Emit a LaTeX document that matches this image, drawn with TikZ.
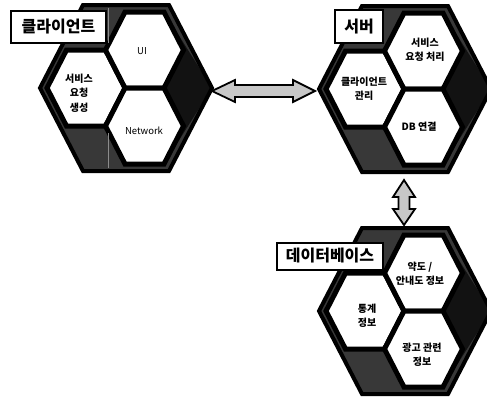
\documentclass[tikz,border=0pt]{standalone}
\usepackage{fontspec}
\setmainfont{Noto Sans CJK KR}
\begin{document}
\tikzset{
  darkfill/.style={fill=black!78},
  darkerfill/.style={fill=black!93},
  outerline/.style={draw=black, line width=4pt, line join=miter},
  cellstyle/.style={fill=white, draw=black, line width=5pt, line join=miter},
  labelbox/.style={draw=black, line width=2pt, fill=white, inner sep=0pt,
    font=\fontsize{16}{18}\selectfont\bfseries},
  celltext/.style={font=\fontsize{10}{14.5}\selectfont\bfseries, align=center, inner sep=0pt},
  latintext/.style={font=\fontsize{9.5}{12}\selectfont, inner sep=0pt},
  fatarrow/.style={fill=black!22, draw=black, line width=1.8pt, line join=miter},
  crease/.style={draw=black!45, line width=1pt},
  ihex/.pic={\path[cellstyle] (-39,0) -- (-19.5,-38) -- (19.5,-38) -- (39,0) -- (19.5,38) -- (-19.5,38) -- cycle;},
  hexblock/.pic={
    \path[darkfill] (-86,0) -- (-43,-83) -- (43,-83) -- (86,0) -- (43,83) -- (-43,83) -- cycle;
    \path[darkerfill] (38,-76) -- (86,0) -- (38,76) -- cycle;
    \pic at (-40,0) {ihex};
    \pic at (18.5,-38) {ihex};
    \pic at (18.5,38) {ihex};
    \path[outerline] (-86,0) -- (-43,-83) -- (43,-83) -- (86,0) -- (43,83) -- (-43,83) -- cycle;
  }
}
\begin{tikzpicture}[x=1pt, y=-1pt]
  \useasboundingbox[fill=white] (0,0) rectangle (487,402);

  % hexagon blocks
  \pic at (126,88) {hexblock};
  \draw[crease] (108,8) -- (108,43);
  \draw[crease] (108,133) -- (108,168);
  \pic at (405,89) {hexblock};
  \pic at (405,311) {hexblock};

  % labels
  \node[labelbox, minimum width=95pt, minimum height=32pt] (lc) at (58.5,27) {클라이언트};
  \node[labelbox, minimum width=48pt, minimum height=33pt] (ls) at (359,26.5) {서버};
  \node[labelbox, minimum width=106pt, minimum height=27pt] (ld) at (330,256) {데이터베이스};

  % client cells
  \node[celltext] (c1) at (79,93) {서비스\\요청\\생성};
  \node[latintext] (c2) at (142,51) {UI};
  \node[latintext] (c3) at (144,131) {Network};

  % server cells
  \node[celltext] (s1) at (425,50) {서비스\\요청 처리};
  \node[celltext] (s2) at (364,89) {클라이언트\\관리};
  \node[celltext] (s3) at (419,127) {DB 연결};

  % database cells
  \node[celltext] (d1) at (420,274) {약도 /\\안내도 정보};
  \node[celltext] (d2) at (367,316) {통계\\정보};
  \node[celltext] (d3) at (422,355) {광고 관련\\정보};

  % fat double arrows
  \coordinate (ha) at (212,91);
  \draw[fatarrow] (ha) -- ++(23,-11) -- ++(0,5) -- ++(58,0) -- ++(0,-5) -- ++(22,11)
     -- ++(-22,11) -- ++(0,-5) -- ++(-58,0) -- ++(0,5) -- cycle;
  \coordinate (va) at (404,180);
  \draw[fatarrow] (va) -- ++(11,17) -- ++(-5.5,0) -- ++(0,12) -- ++(5.5,0) -- ++(-11,16)
     -- ++(-11,-16) -- ++(5.5,0) -- ++(0,-12) -- ++(-5.5,0) -- cycle;
\end{tikzpicture}
\end{document}
